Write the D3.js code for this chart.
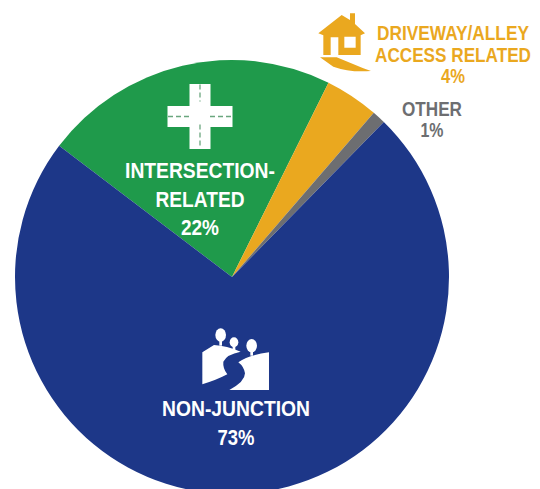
<!DOCTYPE html>
<html>
<head>
<meta charset="utf-8">
<script src="https://d3js.org/d3.v7.min.js"></script>
<style>
html,body{margin:0;padding:0;background:#fff;}
text{font-family:"Liberation Sans",Arial,sans-serif;font-weight:bold;text-anchor:middle;}
</style>
</head>
<body>
<div id="chart"></div>
<script>
let categories=[["INTERSECTION-","RELATED"],["DRIVEWAY/ALLEY","ACCESS RELATED"],["OTHER"],["NON-JUNCTION"]];
let values=[22,4,1,73];
let colors=["#1f9a4b","#eaa81f","#6d6e71","#1d3788"];

let width=540;
let height=489;
let radius=217;
let cx=232;
let cy=277;

let chart=d3.select("#chart")
.append("svg")
.attr("width",width)
.attr("height",height)
.style("display","block");

let startAt=-52.8*Math.PI/180;
let pie=d3.pie().sort(null).startAngle(startAt).endAngle(startAt+2*Math.PI);
let arc=d3.arc().innerRadius(0).outerRadius(radius);

chart.append("g")
.attr("transform","translate("+cx+","+cy+")")
.selectAll("path")
.data(pie(values))
.enter()
.append("path")
.attr("d",arc)
.attr("fill",function(d,i){return colors[i];});

// labels: each row is squeezed to its measured width, the font here is wider than the original
function label(i,x,y0,step,size,color,widths){
    categories[i].concat([values[i]+"%"]).forEach(function(t,row){
        let node=chart.append("text")
        .text(t)
        .attr("font-size",size)
        .attr("fill",color);
        let k=widths[row]/node.node().getComputedTextLength();
        node.attr("transform","translate("+x+","+(y0+row*step)+") scale("+k+",1)");
    });
}
label(0,200,178,28.5,22,"#fff",[150,89,38]);
label(3,236,416,29,22,"#fff",[148,37]);
label(1,453,40,21.5,20,colors[1],[152,156,24]);
label(2,432,116,21,20,colors[2],[60,23]);

// cross road icon
let cross=chart.append("g").attr("transform","translate(200,116.5)");
cross.append("path")
.attr("d","M-10.5,-32.5H10.5V-10.5H32.5V10.5H10.5V32.5H-10.5V10.5H-32.5V-10.5H-10.5Z")
.attr("fill","#fff");
cross.append("path")
.attr("d","M0,-32V-15M0,8V32M-32,0H-10M10,0H32")
.attr("stroke","#6aa67e")
.attr("stroke-width",1.3)
.attr("stroke-dasharray","5 3")
.attr("fill","none");

// house icon, drawn in 3x crop units
let house=chart.append("g").attr("transform","translate(300,0) scale(0.3333)").attr("fill",colors[1]);
house.append("path")
.attr("fill-rule","evenodd")
.attr("d","M55,100L125,45L150,60V40H165V72L195,100L182,106V165H70V106ZM92,112V165H115V112ZM133,110V143H167V110Z");
house.append("path").attr("d","M60,172H110L190,205L213,213Q150,218 100,200Z");

// road and trees icon, also 3x crop units
let road=chart.append("g").attr("transform","translate(190,325) scale(0.3333)").attr("fill","#fff");
road.append("path").attr("d","M37,82L72,60Q110,62 152,80Q110,88 100,110Q98,130 112,148Q80,165 37,178Z");
road.append("path").attr("d","M145,112Q175,90 237,82V195H118Q165,170 165,145Q162,125 145,112Z");
let trees=[[92,30,16,20,62],[132,52,13,15,75],[185,62,16,20,92]];
road.selectAll("ellipse")
.data(trees)
.enter()
.append("ellipse")
.attr("cx",function(d){return d[0];})
.attr("cy",function(d){return d[1];})
.attr("rx",function(d){return d[2];})
.attr("ry",function(d){return d[3];});
road.selectAll("line")
.data(trees)
.enter()
.append("line")
.attr("x1",function(d){return d[0];})
.attr("x2",function(d){return d[0];})
.attr("y1",function(d){return d[1];})
.attr("y2",function(d){return d[4];})
.attr("stroke","#fff")
.attr("stroke-width",8);
</script>
</body>
</html>
